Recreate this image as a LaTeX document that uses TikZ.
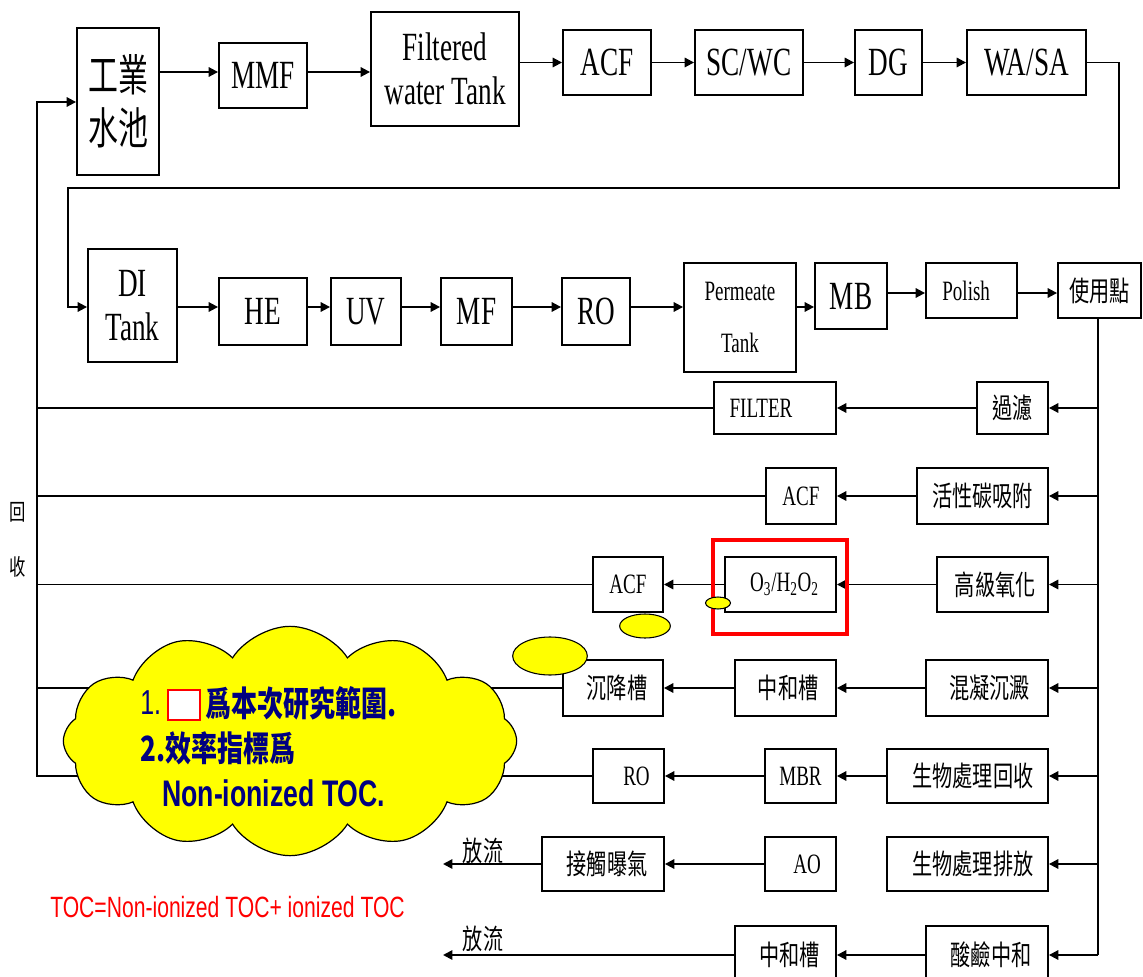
\documentclass[tikz,border=0pt]{standalone}
\usepackage{fontspec}
\usetikzlibrary{arrows.meta,fit,shapes.symbols,shapes.geometric}
\newfontfamily\serifnarrow[FakeStretch=0.68]{Liberation Serif}
\newfontfamily\sansnarrow[FakeStretch=0.72]{Liberation Sans}
\newfontfamily\cjknarrow[FakeStretch=0.72]{Noto Sans CJK TC}
\newfontfamily\cjktall[FakeStretch=0.68]{Noto Sans CJK TC}
\newfontfamily\cjkcloud[FakeStretch=0.75]{Noto Sans CJK TC}
\definecolor{navyblue}{HTML}{000080}
\definecolor{pureyellow}{HTML}{FFFF00}
\definecolor{purered}{HTML}{FF0000}
% process box from its corners (x1,y1) (x2,y2), in pixel units
\newcommand\procbox[7][]{%
  \node[pbox,#1,minimum width={(#5-#3)*0.75pt},minimum height={(#6-#4)*0.75pt}]
    (#2) at ({(#3+#5)/2},{(#4+#6)/2}) {#7};}
\begin{document}
\begin{tikzpicture}[x=0.75pt,y=-0.75pt,
  pbox/.style={draw, line width=1.4pt, inner sep=0pt, fill=white},
  flow/.style={line width=1.4pt, -{Triangle[length=7pt,width=7pt]}},
  pipe/.style={line width=1.4pt},
  bigtxt/.style={font=\serifnarrow\fontsize{30}{33}\selectfont},
  smalltxt/.style={font=\serifnarrow\fontsize{21}{23}\selectfont},
  cjkbig/.style={font=\cjktall\fontsize{33}{40}\selectfont},
  cjksmall/.style={font=\cjknarrow\fontsize{21}{24}\selectfont},
  blob/.style={ellipse, draw, fill=pureyellow, line width=0.8pt, inner sep=0pt},
]
\clip (0,0) rectangle (1143,977);
\fill[white] (0,0) rectangle (1143,977);

% ---- pretreatment line ----
\procbox[cjkbig, align=center]{pool}{77}{28}{159}{175}{工業\\水池}
\procbox[bigtxt]{mmf}{219}{43}{307}{108}{MMF}
\procbox[bigtxt, align=center]{fwt}{371}{12}{519}{126}{Filtered\\water Tank}
\procbox[bigtxt]{acfa}{563}{30}{651}{95}{ACF}
\procbox[bigtxt]{scwc}{695}{30}{803}{95}{SC/WC}
\procbox[bigtxt]{dg}{855}{30}{922}{95}{DG}
\procbox[bigtxt]{wasa}{967}{30}{1086}{95}{WA/SA}

% ---- make-up / polishing line ----
\procbox[bigtxt, align=center]{di}{88}{249}{177}{362}{DI\\Tank}
\procbox[bigtxt]{he}{219}{278}{307}{345}{HE}
\procbox[bigtxt]{uv}{331}{278}{401}{345}{UV}
\procbox[bigtxt]{mf}{441}{278}{512}{345}{MF}
\procbox[bigtxt]{roa}{562}{278}{630}{345}{RO}
\procbox[smalltxt, align=center]{perm}{684}{263}{796}{372}{Permeate\\[16pt]Tank}
\procbox[bigtxt]{mb}{815}{263}{887}{329}{MB}
\procbox[smalltxt]{polish}{926}{263}{1017}{318}{Polish\hspace*{8pt}}
\procbox[cjksmall]{use}{1058}{263}{1141}{318}{使用點}

% ---- reclaim branches ----
\procbox[cjksmall]{guolv}{977}{382}{1048}{434}{過濾}
\procbox[smalltxt]{filter}{714}{382}{836}{434}{FILTER\hspace*{21pt}}
\procbox[cjksmall]{huoxing}{917}{468}{1048}{524}{活性碳吸附}
\procbox[smalltxt]{acfb}{766}{468}{836}{524}{ACF}
\procbox[cjksmall]{gaoji}{937}{557}{1048}{612}{\hspace*{4pt}高級氧化}
\procbox[smalltxt]{ozone}{725}{557}{836}{612}{\hspace*{6pt}O\textsubscript{3}/H\textsubscript{2}O\textsubscript{2}}
\procbox[smalltxt]{acfc}{593}{557}{663}{612}{ACF}
\procbox[cjksmall]{hunning}{926}{660}{1048}{716}{\hspace*{4pt}混凝沉澱}
\procbox[cjksmall]{zhonghe}{735}{660}{836}{716}{\hspace*{4pt}中和槽}
\procbox[cjksmall]{chenjiang}{563}{660}{663}{716}{\hspace*{6pt}沉降槽}
\procbox[cjksmall]{bioreuse}{887}{749}{1048}{803}{\hspace*{8pt}生物處理回收}
\procbox[smalltxt]{mbr}{765}{749}{836}{803}{MBR}
\procbox[smalltxt]{rob}{593}{749}{664}{803}{\hspace*{12pt}RO}
\procbox[cjksmall]{biodis}{887}{837}{1048}{891}{\hspace*{8pt}生物處理排放}
\procbox[smalltxt]{ao}{765}{837}{836}{891}{\hspace*{10pt}AO}
\procbox[cjksmall]{jiechu}{542}{837}{664}{891}{\hspace*{6pt}接觸曝氣}
\procbox[cjksmall]{suanjian}{926}{926}{1048}{984}{\hspace*{6pt}酸鹼中和}
\procbox[cjksmall]{zhongheb}{735}{926}{836}{984}{\hspace*{6pt}中和槽}

% ---- reference coordinates ----
\coordinate (kb) at (1119,188);
\coordinate (kc) at (68,188);
\coordinate (kd) at (68,307);
\coordinate (rowa) at (0,72);
\coordinate (rowb) at (0,307);
\coordinate (rowc) at (0,293);
\coordinate (trunk) at (1098,955);
\coordinate (spine) at (37,102);
\coordinate (outlet) at (443,0);

% ---- connectors, top line ----
\draw[flow] (pool.east |- rowa) -- (mmf.west |- rowa);
\draw[flow] (mmf.east |- rowa) -- (fwt.west |- rowa);
\draw[flow] (fwt.east |- acfa.west) -- (acfa.west);
\draw[flow] (acfa.east) -- (scwc.west);
\draw[flow] (scwc.east) -- (dg.west);
\draw[flow] (dg.east) -- (wasa.west);
\draw[flow] (wasa.east) -| (kb) -- (kc) |- (di.west |- kd);

% ---- connectors, second line ----
\draw[flow] (di.east |- rowb) -- (he.west |- rowb);
\draw[flow] (he.east |- rowb) -- (uv.west |- rowb);
\draw[flow] (uv.east |- rowb) -- (mf.west |- rowb);
\draw[flow] (mf.east |- rowb) -- (roa.west |- rowb);
\draw[flow] (roa.east |- rowb) -- (perm.west |- rowb);
\draw[flow] (perm.east |- rowb) -- (mb.west |- rowb);
\draw[flow] (mb.east |- rowc) -- (polish.west |- rowc);
\draw[flow] (polish.east |- rowc) -- (use.west |- rowc);

% ---- trunk from point of use ----
\draw[pipe] (use.south -| trunk) -- (trunk);
\draw[flow] (trunk |- guolv.east) -- (guolv.east);
\draw[flow] (trunk |- huoxing.east) -- (huoxing.east);
\draw[flow] (trunk |- gaoji.east) -- (gaoji.east);
\draw[flow] (trunk |- hunning.east) -- (hunning.east);
\draw[flow] (trunk |- bioreuse.east) -- (bioreuse.east);
\draw[flow] (trunk |- biodis.east) -- (biodis.east);
\draw[flow] (trunk |- suanjian.east) -- (suanjian.east);

\draw[flow] (guolv.west) -- (filter.east);
\draw[flow] (huoxing.west) -- (acfb.east);
\draw[flow] (gaoji.west) -- (ozone.east);
\draw[flow] (ozone.west) -- (acfc.east);
\draw[flow] (hunning.west) -- (zhonghe.east);
\draw[flow] (zhonghe.west) -- (chenjiang.east);
\draw[flow] (bioreuse.west) -- (mbr.east);
\draw[flow] (mbr.west) -- (rob.east);
\draw[flow] (ao.west) -- (jiechu.east);
\draw[flow] (suanjian.west) -- (zhongheb.east);

% ---- discharge ----
\draw[flow] (jiechu.west) -- (jiechu.west -| outlet);
\draw[flow] (zhongheb.west) -- (zhongheb.west -| outlet);
\node[cjksmall] (dischargea) at (483,851) {放流};
\node[cjksmall] (dischargeb) at (483,939) {放流};

% ---- return to industrial pool ----
\draw[pipe] (filter.west) -- (filter.west -| spine);
\draw[pipe] (acfb.west) -- (acfb.west -| spine);
\draw[pipe] (acfc.west) -- (acfc.west -| spine);
\draw[pipe] (chenjiang.west) -- (chenjiang.west -| spine);
\draw[flow] (rob.west) -| (spine) -- (pool.west |- spine);
\node[font=\cjknarrow\fontsize{17}{18}\selectfont] (hui) at (18,512) {回};
\node[font=\cjknarrow\fontsize{17}{18}\selectfont] (shou) at (18,567) {收};

% ---- study scope frame ----
\node[draw=purered, line width=3pt, inner sep=0pt, fit={(713,540) (847,634)}] (scopeframe) {};

% ---- note cloud ----
\node[cloud, cloud puffs=12, cloud puff arc=115, aspect=2.1, draw, fill=pureyellow,
      line width=0.9pt, minimum width=340pt, minimum height=172pt, inner sep=0pt] (note) at (290,741) {};
\node[anchor=west, text=navyblue, font=\sansnarrow\fontsize{26}{30}\selectfont, inner sep=0pt] (noteone) at (140,703) {1.};
\node[draw=purered, line width=2.2pt, inner sep=0pt, fill=white, fit={(168,690) (200,720)}] (notebox) {};
\node[anchor=west, text=navyblue, font=\cjkcloud\bfseries\fontsize{26}{30}\selectfont, inner sep=0pt] (notetwo) at (205,703) {爲本次研究範圍.};
\node[anchor=west, text=navyblue, font=\cjkcloud\bfseries\fontsize{26}{30}\selectfont, inner sep=0pt] (notethree) at (140,748) {2.效率指標爲};
\node[anchor=west, text=navyblue, font=\sansnarrow\bfseries\fontsize{27.75}{32}\selectfont, inner sep=0pt] (notefour) at (162,793) {Non-ionized TOC.};

% ---- small bubbles ----
\node[blob, minimum width=18.75pt, minimum height=9pt] (bubblea) at (718,603) {};
\node[blob, minimum width=38pt, minimum height=18pt] (bubbleb) at (645,626) {};
\node[blob, minimum width=56pt, minimum height=28.5pt] (bubblec) at (550,656) {};

% ---- definition ----
\node[anchor=west, text=purered, font=\sansnarrow\fontsize{22}{26}\selectfont, inner sep=0pt] (tocdef) at (50,907) {TOC=Non-ionized TOC+ ionized TOC};
\end{tikzpicture}
\end{document}
